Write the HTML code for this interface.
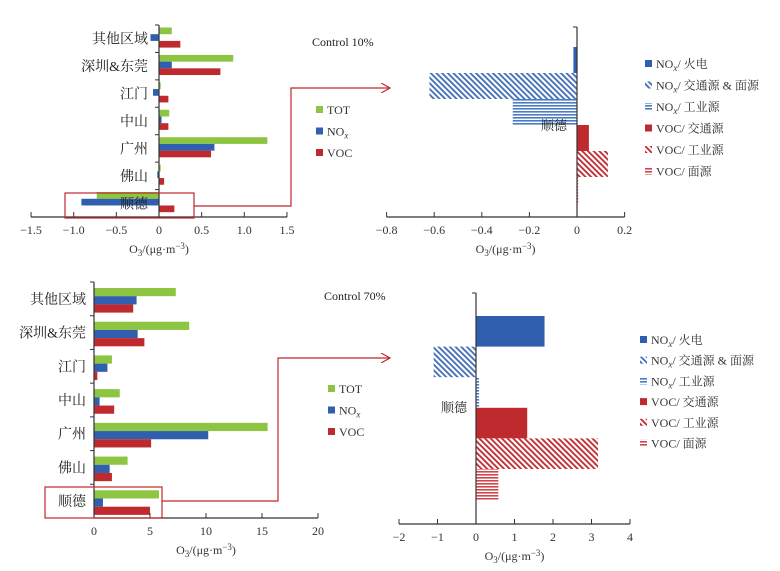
<!DOCTYPE html>
<html><head><meta charset="utf-8"><style>
body{margin:0;background:#fff;}
svg{display:block;font-family:"Liberation Serif","Noto Serif CJK SC",serif;}
</style></head><body>
<svg id="fig" width="780" height="571" viewBox="0 0 780 571">
<defs>
<pattern id="diagB" patternUnits="userSpaceOnUse" width="4" height="4" patternTransform="rotate(-45)"><rect width="4" height="4" fill="#fff"/><rect width="1.8" height="4" fill="#3f6cb5"/></pattern>
<pattern id="horB" patternUnits="userSpaceOnUse" width="4" height="3"><rect width="4" height="3" fill="#fff"/><rect width="4" height="1.6" fill="#4a7bc4"/></pattern>
<pattern id="diagR" patternUnits="userSpaceOnUse" width="4" height="4" patternTransform="rotate(-45)"><rect width="4" height="4" fill="#fff"/><rect width="1.8" height="4" fill="#c0272d"/></pattern>
<pattern id="horR" patternUnits="userSpaceOnUse" width="4" height="3"><rect width="4" height="3" fill="#fff"/><rect width="4" height="1.6" fill="#d0464c"/></pattern>
<marker id="arr" markerWidth="10" markerHeight="10" refX="9" refY="5" orient="auto" markerUnits="userSpaceOnUse"><path d="M0,0 L9,5 L0,10" fill="none" stroke="#c0272d" stroke-width="1.2"/></marker>
</defs>
</svg>
<script>
const regions = ["其他区域","深圳&东莞","江门","中山","广州","佛山","顺德"];
const tot10 = [0.15,0.87,0.02,0.12,1.27,0.02,-0.73];
const nox10 = [-0.10,0.15,-0.07,0.03,0.65,-0.02,-0.91];
const voc10 = [0.25,0.72,0.11,0.11,0.61,0.06,0.18];
const ticks10 = [-1.5,-1.0,-0.5,0,0.5,1.0,1.5];
const tot70 = [7.3,8.5,1.6,2.3,15.5,3.0,5.8];
const nox70 = [3.8,3.9,1.2,0.5,10.2,1.4,0.8];
const voc70 = [3.5,4.5,0.3,1.8,5.1,1.6,5.0];
const ticks70 = [0,5,10,15,20];
const sources = ["NOx/ 火电","NOx/ 交通源 & 面源","NOx/ 工业源","VOC/ 交通源","VOC/ 工业源","VOC/ 面源"];
const src10 = [-0.015,-0.62,-0.27,0.05,0.13,0.005];
const src70 = [1.78,-1.1,0.08,1.33,3.17,0.58];
const ticksS10 = [-0.8,-0.6,-0.4,-0.2,0,0.2];
const ticksS70 = [-2,-1,0,1,2,3,4];

const NS="http://www.w3.org/2000/svg";
const svg=document.getElementById('fig');
function mk(tag,attrs,parent){const e=document.createElementNS(NS,tag);for(const k in attrs)e.setAttribute(k,attrs[k]);(parent||svg).appendChild(e);return e;}
function fmt(v,d){if(v===0)return "0";const s=Math.abs(v).toFixed(d);return (v<0?"−":"")+s;}
const cols={tot:"#8dc441",nox:"#2f5fae",voc:"#bf2a2e"};
const srcFill=["#2f5fae","url(#diagB)","url(#horB)","#bf2a2e","url(#diagR)","url(#horR)"];

function axisTitle(g,cx,y){const t=mk('text',{x:cx,y:y,'text-anchor':'middle','font-size':'12',fill:'#333'},g);
t.innerHTML='O<tspan font-size="9" dy="3">3</tspan><tspan dy="-3">/(μg·m</tspan><tspan font-size="9" dy="-4">−3</tspan><tspan dy="4">)</tspan>';
}

function regionChart(o){
  const g=mk('g',{});
  const xs=v=>o.x0+v*o.k;
  const band=(o.yb-o.yt)/regions.length;
  const series=[[o.tot,cols.tot,'tot'],[o.nox,cols.nox,'nox'],[o.voc,cols.voc,'voc']];
  regions.forEach((r,i)=>{
    const y0=o.yt+i*band;
    series.forEach((s,j)=>{
      const v=s[0][i];const x1=Math.min(xs(0),xs(v)),w=Math.abs(xs(v)-xs(0));
      const b=mk('rect',{x:x1,y:y0+o.off+j*o.bh,width:Math.max(w,0.8),height:o.bh,fill:s[1]},g);
      
    });
    const t=mk('text',{x:o.lx,y:y0+band/2+5,'text-anchor':'end','font-size':'14',fill:'#222'},g);t.textContent=r;
    
    mk('line',{x1:xs(0)-4,x2:xs(0),y1:y0,y2:y0,stroke:'#333'},g);
  });
  mk('line',{x1:xs(0),x2:xs(0),y1:o.yt,y2:o.yb,stroke:'#333','stroke-width':1.2},g);
  mk('line',{x1:xs(o.ticks[0]),x2:xs(o.ticks[o.ticks.length-1]),y1:o.yb,y2:o.yb,stroke:'#333','stroke-width':1.2},g);
  o.ticks.forEach(v=>{mk('line',{x1:xs(v),x2:xs(v),y1:o.yb,y2:o.yb-5,stroke:'#333'},g);
    const t=mk('text',{x:xs(v),y:o.yb+17,'text-anchor':'middle','font-size':'12',fill:'#333'},g);t.textContent=fmt(v,o.dec);
    });
  axisTitle(g,xs((o.ticks[0]+o.ticks[o.ticks.length-1])/2),o.yb+36);
  const lg=mk('g',{},g);
  [['TOT',cols.tot],['NOx',cols.nox],['VOC',cols.voc]].forEach((e,j)=>{
    const y=o.legY+j*o.legDy;mk('rect',{x:o.legX,y:y-4,width:7,height:7,fill:e[1]},lg);
    const t=mk('text',{x:o.legX+11,y:y+4,'font-size':'12',fill:'#333'},lg);
    t.innerHTML=e[0]==='NOx'?'NO<tspan font-size="9" font-style="italic" dy="3">x</tspan>':e[0];
    });
  const c=mk('text',{x:o.legX-4,y:o.ctlY,'font-size':'12',fill:'#222'},g);c.textContent=o.ctl;
  
  const bx=mk('rect',{x:o.box[0],y:o.box[1],width:o.box[2],height:o.box[3],fill:'none',stroke:'#c0272d','stroke-width':1.2},g);
  
  const p=mk('path',{d:o.arrow,fill:'none',stroke:'#c0272d','stroke-width':1.2,'marker-end':'url(#arr)'},g);
  
}

function sourceChart(o){
  const g=mk('g',{});
  const xs=v=>o.x0+v*o.k;
  o.vals.forEach((v,i)=>{
    const x1=Math.min(xs(0),xs(v)),w=Math.abs(xs(v)-xs(0));
    const b=mk('rect',{x:x1,y:o.by+i*o.bh,width:Math.max(w,1),height:o.bh,fill:srcFill[i]},g);
    
  });
  mk('line',{x1:xs(0),x2:xs(0),y1:o.yt,y2:o.yb,stroke:'#333','stroke-width':1.2},g);
  mk('line',{x1:xs(0)-4,x2:xs(0),y1:o.yt,y2:o.yt,stroke:'#333'},g);
  mk('line',{x1:xs(o.ticks[0]),x2:xs(o.ticks[o.ticks.length-1]),y1:o.yb,y2:o.yb,stroke:'#333','stroke-width':1.2},g);
  o.ticks.forEach(v=>{mk('line',{x1:xs(v),x2:xs(v),y1:o.yb,y2:o.yb-5,stroke:'#333'},g);
    const t=mk('text',{x:xs(v),y:o.yb+17,'text-anchor':'middle','font-size':'12',fill:'#333'},g);t.textContent=fmt(v,o.dec);
    });
  axisTitle(g,xs((o.ticks[0]+o.ticks[o.ticks.length-1])/2),o.yb+36);
  const l=mk('text',{x:o.lab[0],y:o.lab[1],'text-anchor':'end','font-size':'13',fill:'#222'},g);l.textContent='顺德';
  
  const lg=mk('g',{},g);
  sources.forEach((s,j)=>{const y=o.legY+j*o.legDy;
    mk('rect',{x:o.legX,y:y-4,width:7,height:7,fill:srcFill[j]},lg);
    const t=mk('text',{x:o.legX+11,y:y+4,'font-size':'12',fill:'#333'},lg);
    if(s.startsWith('NOx'))t.innerHTML='NO<tspan font-size="9" font-style="italic" dy="3">x</tspan><tspan dy="-3">'+s.slice(3)+'</tspan>';
    else t.textContent=s;
    });
}

regionChart({name:'chart-control-10-regions',x0:159,k:85.3,yt:25,yb:217,off:2.5,bh:6.7,lx:148,
  tot:tot10,nox:nox10,voc:voc10,ticks:ticks10,dec:1,legX:316,legY:110,legDy:21.5,ctl:'Control 10%',ctlY:46,
  box:[65,193,129,25],arrow:'M194,206 L291,206 L291,88 L390,88'});
sourceChart({name:'chart-control-10-sources',x0:577,k:238,yt:27,yb:217,by:47,bh:26,vals:src10,ticks:ticksS10,dec:1,
  lab:[567,130],legX:645,legY:64,legDy:21.5});
regionChart({name:'chart-control-70-regions',x0:94,k:11.2,yt:282,yb:518,off:6,bh:8.2,lx:86,
  tot:tot70,nox:nox70,voc:voc70,ticks:ticks70,dec:0,legX:328,legY:389,legDy:21.5,ctl:'Control 70%',ctlY:300,
  box:[45,487,117,31],arrow:'M162,501 L278,501 L278,358 L390,358'});
sourceChart({name:'chart-control-70-sources',x0:476,k:38.5,yt:293,yb:524,by:316,bh:30.6,vals:src70,ticks:ticksS70,dec:0,
  lab:[467,412],legX:640,legY:340,legDy:20.7});
</script>
</body></html>
